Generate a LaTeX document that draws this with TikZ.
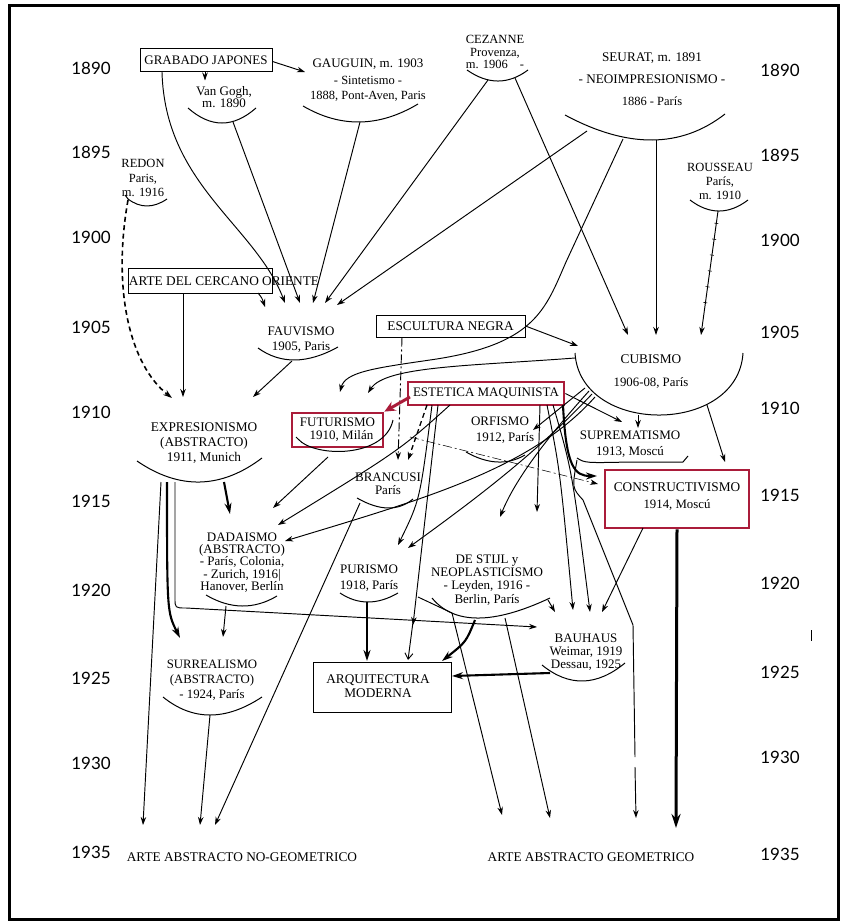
\documentclass[tikz,border=0pt]{standalone}
\usepackage{fontspec}
\setmainfont{Liberation Serif}
\newfontfamily\yearfont{Lato}
\usetikzlibrary{arrows.meta,decorations.markings}
\definecolor{frm}{RGB}{170,28,58}
\begin{document}
\begin{tikzpicture}[x=1pt,y=-1pt,
  lbl/.style={align=center,inner sep=0pt,font=\fontsize{13.3}{15}\selectfont},
  yr/.style={inner sep=0pt,font=\yearfont\fontsize{17}{17}\selectfont},
  con/.style={line width=0.95pt},
  ar/.style={con,-{Stealth[length=8pt,width=5.5pt]}},
  thk/.style={line width=2.1pt,-{Stealth[length=11pt,width=7pt]}},
  dashdot/.style={dash pattern=on 9pt off 3pt on 2pt off 3pt},
  box/.style={draw,line width=1pt,inner sep=0pt},
  rbox/.style={draw=frm,line width=2.8pt,inner sep=0pt},
  arcl/.style={line width=1pt},
  ticked/.style={postaction={decorate},decoration={markings,
     mark=between positions 0.1 and 0.85 step 16pt with {\draw[-,line width=0.6pt,solid] (0,-2pt) -- (0,2pt);}}},
]
\useasboundingbox (0,0) rectangle (847,923);
\fill[white] (0,0) rectangle (847,923);
\draw[line width=3pt] (9,6) rectangle (838,919);

% years
\foreach \t/\yy [count=\i] in {1890/68,1895/152,1900/237,1905/327,1910/412,1915/501,1920/590,1925/678,1930/763,1935/852}
  \node[yr] (yl\i) at (91,\yy) {\t};
\foreach \t/\yy [count=\i] in {1890/70,1895/155,1900/240,1905/332,1910/408,1915/495,1920/583,1925/672,1930/757,1935/854}
  \node[yr] (yr\i) at (780,\yy) {\t};
\draw[line width=0.8pt] (811,630) -- (811,641);

% ---------- labels ----------
\node[box,lbl,minimum width=132pt,minimum height=23pt,font=\fontsize{13}{15}\selectfont] (grab) at (206,60.5) {GRABADO JAPONES};
\node[lbl,font=\fontsize{13}{11.5}\selectfont] (vg) at (224,97) {Van Gogh,\\m. 1890};
\node[lbl,font=\fontsize{13}{18}\selectfont] (gau) at (368,80) {GAUGUIN, m. 1903\\[-1pt]{\fontsize{12.5}{14}\selectfont - Sintetismo -}\\[-3pt]{\fontsize{12.5}{14}\selectfont 1888, Pont-Aven, Paris}};
\node[lbl,font=\fontsize{12.5}{12.5}\selectfont] (cez) at (495,52) {CEZANNE\\Provenza,\\m. 1906\hspace{12pt}-};
\node[lbl,font=\fontsize{13.2}{22}\selectfont] (seu) at (652,79) {SEURAT, m. 1891\\- NEOIMPRESIONISMO -\\{\fontsize{12.5}{14}\selectfont 1886 - París}};
\node[lbl,font=\fontsize{12.5}{14}\selectfont] (rou) at (720,181) {ROUSSEAU\\París,\\m. 1910};
\node[lbl,font=\fontsize{12.5}{14.5}\selectfont] (red) at (143,178) {REDON\\Paris,\\m. 1916};
\node[box,minimum width=144pt,minimum height=25pt] (aco) at (200,280.5) {};
\node[lbl] (acot) at (224,281) {ARTE DEL CERCANO ORIENTE};
\node[box,lbl,minimum width=149pt,minimum height=22pt] (esc) at (450.5,326) {ESCULTURA NEGRA};
\node[lbl,font=\fontsize{13}{15}\selectfont] (fau) at (301,339.5) {FAUVISMO\\1905, Paris};
\node[lbl,font=\fontsize{13.3}{23}\selectfont] (cub) at (651,371.5) {CUBISMO\\{\fontsize{12.8}{14}\selectfont 1906-08, París}};
\node[lbl] (exp) at (204,443) {EXPRESIONISMO\\(ABSTRACTO)\\1911, Munich};
\node[rbox,lbl,minimum width=91pt,minimum height=34pt,font=\fontsize{13}{13}\selectfont] (fut) at (337.5,430) {FUTURISMO\\\hspace*{8pt}1910, Milán};
\node[rbox,lbl,minimum width=156pt,minimum height=23pt,font=\fontsize{13}{15}\selectfont] (est) at (486,393.5) {ESTETICA MAQUINISTA};
\node[lbl,font=\fontsize{13}{16}\selectfont] (orf) at (500,430) {ORFISMO\\\hspace*{10pt}1912, París};
\node[lbl,font=\fontsize{13}{16}\selectfont] (sup) at (630,444) {SUPREMATISMO\\1913, Moscú};
\node[rbox,minimum width=144pt,minimum height=58pt] (con) at (677,499) {};
\node[lbl,font=\fontsize{13.3}{17}\selectfont] (cont) at (677,496.5) {CONSTRUCTIVISMO\\{\fontsize{12.8}{14}\selectfont 1914, Moscú}};
\node[lbl,font=\fontsize{13}{13}\selectfont] (bra) at (388,483.5) {BRANCUSI\\París};
\node[lbl,font=\fontsize{13}{12.3}\selectfont] (dad) at (242,562.5) {DADAISMO\\(ABSTRACTO)\\- París, Colonia,\\- Zurich, 1916|\\Hanover, Berlín};
\node[lbl,font=\fontsize{13}{16}\selectfont] (pur) at (369,578) {PURISMO\\1918, París};
\node[lbl,font=\fontsize{13}{13.3}\selectfont] (sti) at (487,580) {DE STIJL y\\NEOPLASTICISMO\\- Leyden, 1916 -\\Berlin, París};
\node[lbl,font=\fontsize{13}{13}\selectfont] (bau) at (586,652) {BAUHAUS\\Weimar, 1919\\Dessau, 1925};
\node[box,minimum width=138pt,minimum height=50pt] (arq) at (382,687) {};
\node[lbl,font=\fontsize{13.3}{14}\selectfont] (arqt) at (378,686) {ARQUITECTURA\\MODERNA};
\node[lbl,font=\fontsize{12.8}{15}\selectfont] (sur) at (212,680) {SURREALISMO\\(ABSTRACTO)\\- 1924, París};
\node[lbl] (nog) at (242,857) {ARTE ABSTRACTO NO-GEOMETRICO};
\node[lbl] (geo) at (591,857) {ARTE ABSTRACTO GEOMETRICO};

% ---------- arcs (quadratic through bottom point) ----------
\draw[arcl] (188,108) .. controls (210.7,128) and (233.3,128) .. (256,108);
\draw[arcl] (303,106) .. controls (340.7,128) and (379,127.3) .. (418,104);
\draw[arcl] (467,70) .. controls (488,84.7) and (508.3,84.7) .. (528,70);
\draw[arcl] (565,115) .. controls (627.7,148.7) and (681,148.3) .. (725,114);
\draw[arcl] (690,200) .. controls (709.3,214.7) and (728.7,214.7) .. (748,200);
\draw[arcl] (125,195) -- (128,199) .. controls (140.3,208.3) and (153.3,208.3) .. (167,199);
\draw[arcl] (258,348) .. controls (280.7,364.3) and (307.3,364) .. (338,347);
\draw[arcl] (575,353) .. controls (580,435.7) and (738,435.7) .. (743,353);
\draw[arcl] (137,461) .. controls (179.3,490) and (221,489) .. (262,458);
\draw[arcl] (296,437) -- (298,439) .. controls (315,458) and (385,458) .. (393,420);
\draw[arcl] (466,452) .. controls (487.7,464.3) and (507.3,465.3) .. (525,455);
\draw[arcl] (577,458) .. controls (585,463) .. (630,462) -- (683,462) -- (688,456);
\draw[arcl] (357,498) .. controls (379.7,511) and (398.3,511.3) .. (413,499);
\draw[arcl] (206,595) .. controls (230.3,609.3) and (254,609.7) .. (277,596);
\draw[arcl] (340,593) .. controls (358,605) and (377.3,605) .. (398,593);
\draw[arcl] (432,598) .. controls (454,624.7) and (493.3,624.7) .. (550,598);
\draw[arcl] (542,665) .. controls (569,687) and (596.7,686.3) .. (625,663);
\draw[arcl] (163,697) .. controls (192.7,721) and (225.7,721) .. (262,697);

% ---------- coordinates ----------
\coordinate (vgb) at (233,122);
\coordinate (gaub) at (360,122);
\coordinate (cezl) at (488,80);
\coordinate (cezr) at (515,78);
\coordinate (seul) at (587,131);
\coordinate (seum) at (623,139);
\coordinate (seur) at (656,140);
\coordinate (roub) at (718,211);
\coordinate (redb) at (128,200);
\coordinate (faub) at (292,361);

% ---------- connectors ----------
\draw[ar] (grab.south) ++(-1,0) -- ++(0,8);
\draw[ar] (grab.east) ++(0,1) -- (305,72);
\draw[ar] (162,72) .. controls (165,185) and (255,225) .. (285,303);
\draw[ar] (vgb) -- (300,303);
\draw[ar] (gaub) -- (313,303);
\draw[ar] (cezl) -- (325,303);
\draw[ar] (seul) -- (337,305);
\draw[ar] (cezr) -- (628,335);
\draw[ar] (seur) -- (656,335);
\draw[ar,ticked] (roub) -- (701,335);
\draw[ar] (seum) -- (566,262) .. controls (545,310) and (535,345) .. (430,360) .. controls (375,368) and (345,372) .. (340,392);
\draw[ar] (575,358) .. controls (470,366) and (385,366) .. (368,393);
\draw[line width=1.6pt,dash pattern=on 5pt off 3.5pt,-{Stealth[length=9pt,width=6pt]}] (redb) .. controls (112,290) and (130,365) .. (172,398);
\draw[ar] (aco.south -| 183,0) -- (183,397);
\draw[ar] (258,293) .. controls (262,298) .. (265,307);
\draw[ar] (faub) -- (253,397);
\draw[ar] (esc.east) -- (578,346);
\draw[ar,dashdot] (esc.south -| 402,0) -- (398,460);
\draw[ar,line width=1.3pt,dash pattern=on 5pt off 3.5pt] (427,405) -- (408,460);
\draw[draw=frm,line width=3pt,-{Stealth[length=11pt,width=10pt]}] (410,397) -- (fut.north east);
\draw[ar] (585,388) -- (533,430);
\draw[ar] (est.east) -- (622,422);
\draw[ar] (638,415) -- (638,428);
\draw[ar] (707,405) -- (725,462);
\draw[thk] (563,405) .. controls (566,468) and (575,476) .. (597,476);
\draw[con] (577,460) .. controls (572,488) .. (583,500) -- (633,625) -- (635,757);
\draw[ar] (635,767) -- (636,818);
\draw[line width=3pt,-{Stealth[length=14pt,width=9pt]}] (con.south) -- (676,828);
\draw[ar] (643,528) -- (602,612);
\draw[ar] (547,405) .. controls (560,470) .. (573,610);
\draw[ar] (553,405) .. controls (572,470) .. (590,612);
\draw[ar] (540,405) -- (537,512);
\draw[ar] (589,391) .. controls (545,440) and (515,480) .. (500,517);
\draw[ar] (592,394) .. controls (530,460) and (460,510) .. (408,548);
\draw[ar] (595,397) .. controls (530,470) and (420,500) .. (285,541);
\draw[ar] (450,405) .. controls (400,450) .. (278,525);
\draw[ar] (328,457) -- (273,508);
\draw[ar] (432,405) .. controls (420,500) .. (398,545);
\draw[ar] (438,405) -- (413,625);
\draw[con,-{Straight Barb[length=6pt,width=8pt]}] (413,622) -- (408,660);
\draw[thk] (224,482) -- (230,514);
\draw[thk] (167,482) .. controls (167,612) .. (180,638);
\draw[ar] (175,482) -- (175,598) .. controls (175,608) .. (186,608) -- (537,627);
\draw[ar] (161,482) -- (143,825);
\draw[ar] (226,606) -- (223,637);
\draw[ar] (210,715) -- (200,825);
\draw[ar] (360,503) -- (215,825);
\draw[thk] (367,602) -- (367,661);
\draw[thk] (475,620) .. controls (466,642) .. (442,661);
\draw[thk] (550,673) -- (452,676);
\draw[ar] (418,597) -- (452,613) -- (502,815);
\draw[ar] (505,618) -- (550,818);
\draw[ar] (548,600) -- (555,612);
\draw[ar,dashdot,line width=0.6pt] (410,437) -- (598,484);
\end{tikzpicture}
\end{document}
